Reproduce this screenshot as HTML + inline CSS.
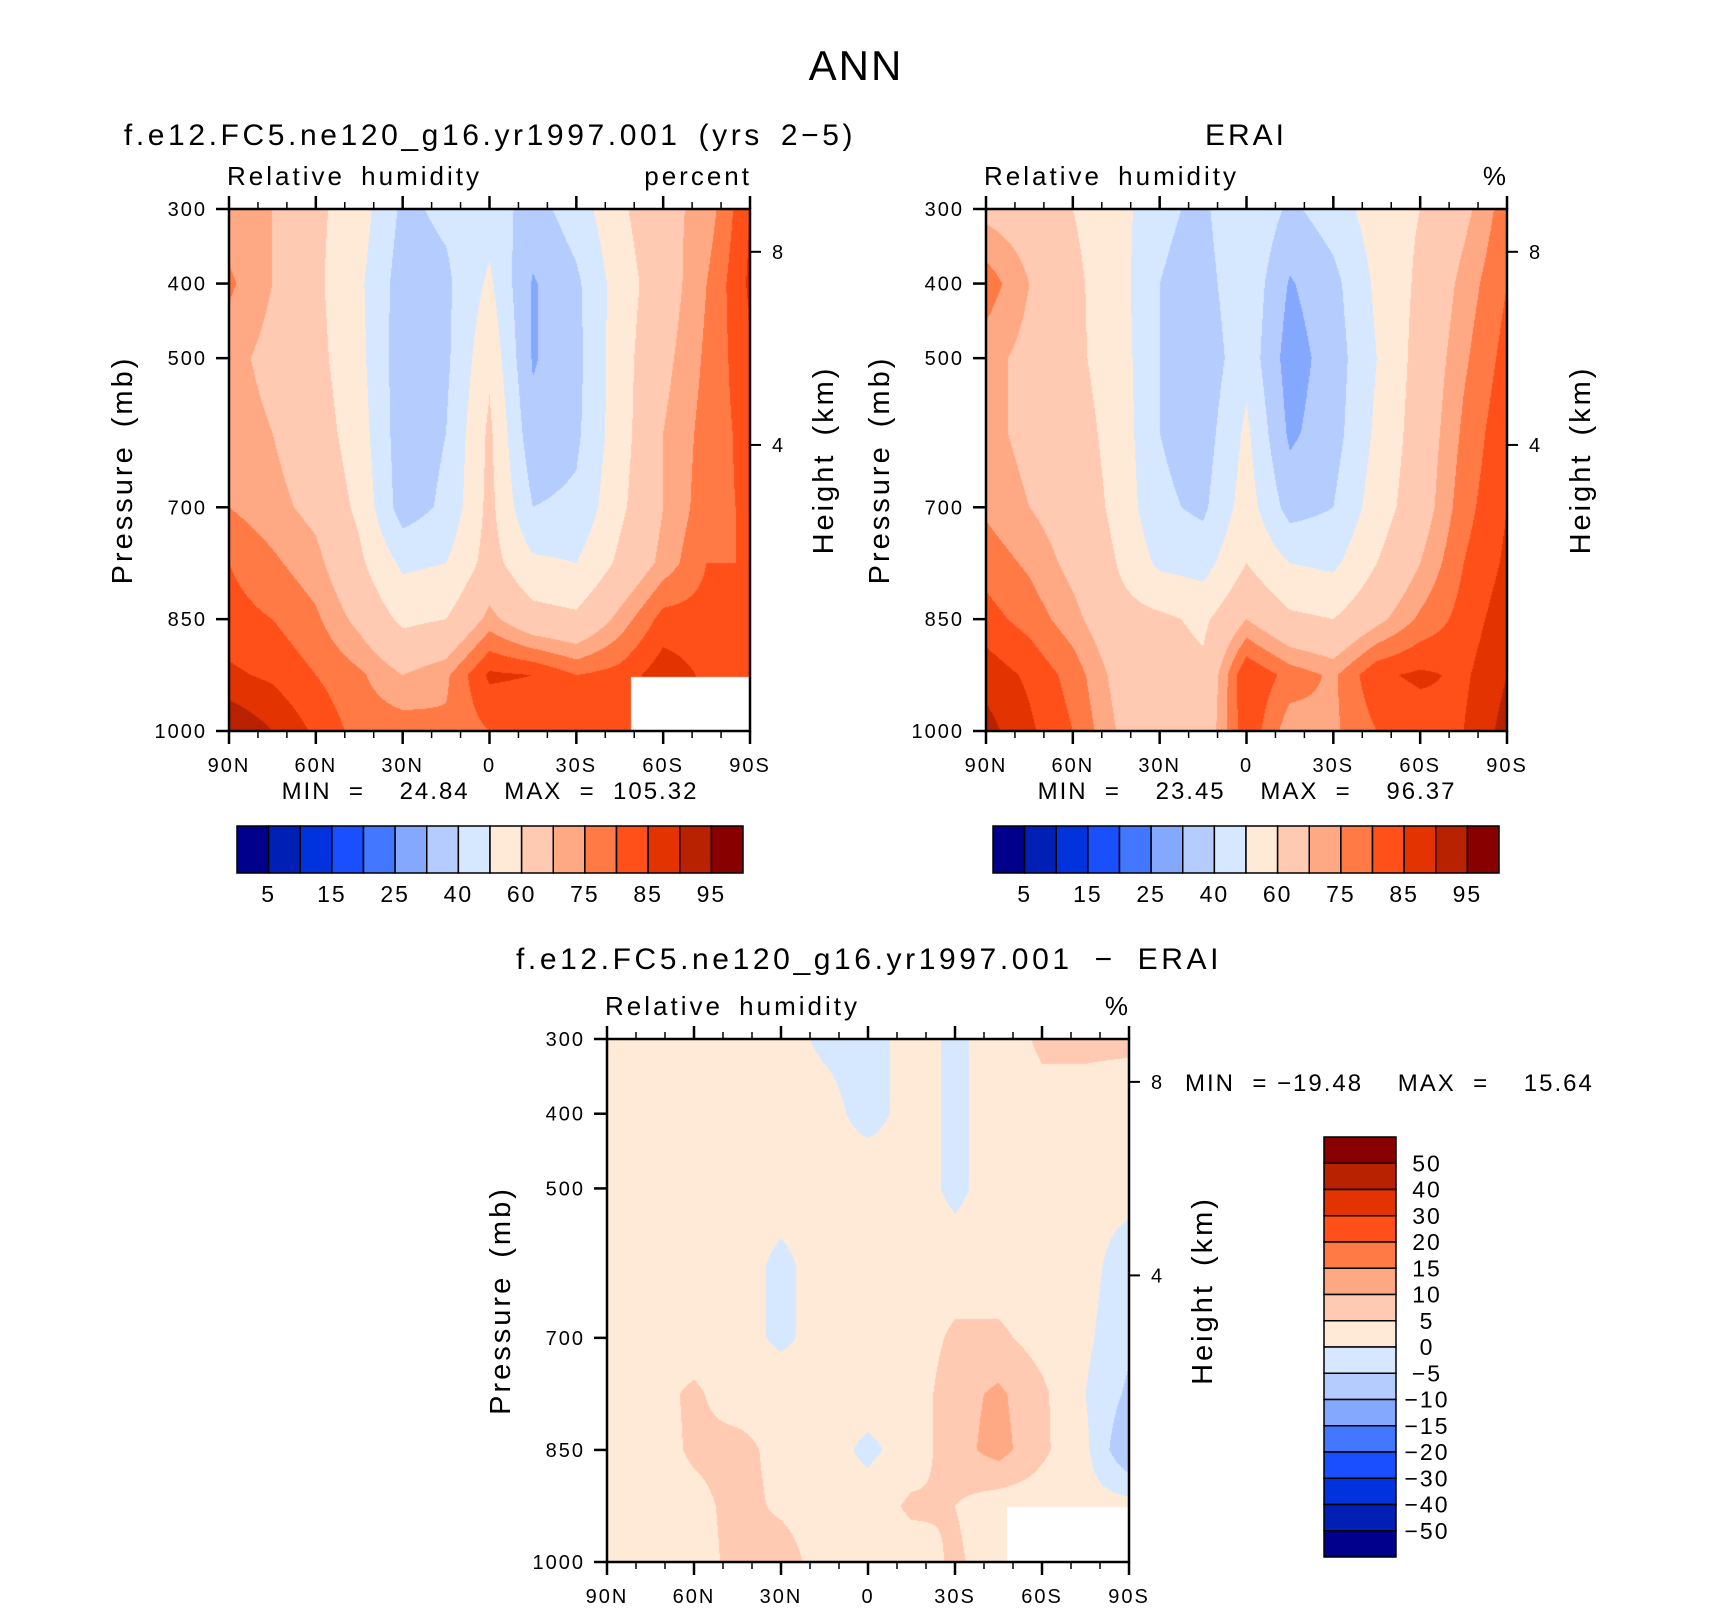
<!DOCTYPE html>
<html><head><meta charset="utf-8">
<style>
html,body{margin:0;padding:0;background:#fff;}
#root{position:relative;width:1710px;height:1610px;overflow:hidden;background:#fff;}
canvas{position:absolute;}
svg{position:absolute;left:0;top:0;}
text{font-family:"Liberation Sans",sans-serif;fill:#000;}
</style></head>
<body>
<div id="root">
<canvas id="cv1"></canvas>
<canvas id="cv2"></canvas>
<canvas id="cv3"></canvas>
<svg id="sv" width="1710" height="1610"></svg>
</div>
<script>
// ---- data ----
const lats = [90,75,60,45,30,15,0,-15,-30,-45,-60,-75,-90];
const levs = [300,400,500,600,700,775,850,925,1000];
const modelRH = [
 [72,70,62,55,38,42,45,36,45,58,68,72,85],
 [76,70,62,52,35,38,52,29,38,55,66,75,86],
 [72,68,63,53,34,38,58,29,37,56,68,76,84],
 [73,70,65,55,34,40,62,33,38,56,70,77,82],
 [75,72,68,58,35,42,63,40,42,58,70,78,81],
 [80,76,72,62,48,50,64,52,50,62,72,80,80],
 [82,80,76,68,58,60,72,64,62,72,82,82,80],
 [86,84,80,76,70,74,86,85,80,82,88,84,80],
 [95,90,84,78,78,76,80,80,80,82,85,85,85]
];
const eraiRH = [
 [68,66,60,55,42,38,50,38,45,55,60,68,78],
 [78,70,62,55,40,36,48,29,37,52,62,72,80],
 [72,68,62,56,40,33,47,25,35,50,64,74,82],
 [72,68,64,57,40,35,52,28,36,52,65,76,84],
 [74,70,66,58,42,38,55,36,40,55,66,78,85],
 [78,74,68,60,48,46,60,50,48,60,70,80,86],
 [82,78,72,64,62,58,70,62,60,68,76,82,88],
 [88,84,78,68,65,62,85,78,74,84,86,84,90],
 [92,86,80,70,64,64,84,72,74,80,82,85,92]
];
const diffRH = [
 [2,2,2,2,2,-1,-2,2,-1,2,6,6,6],
 [2,2,2,2,2,2,-2,2,-1,2,3,3,2],
 [2,2,2,2,2,2,4,2,-1,2,2,2,2],
 [2,2,2,2,-1,2,2,2,2,2,2,2,-3],
 [2,2,2,2,-1,2,2,2,6,6,3,1,-4],
 [2,3,6,2,3,2,2,2,8,11,6,0,-6],
 [2,2,6,7,3,2,-1,2,8,12,6,1,-10],
 [2,2,3,7,4,2,2,6,5,2,2,2,2],
 [3,3,2,7,8,2,2,2,6,2,2,2,2]
];
const rhLevels = [5,10,15,20,25,30,40,50,60,70,75,80,85,90,95];
const rhLabels = ["5","15","25","40","60","75","85","95"];
const diffLevels = [-50,-40,-30,-20,-15,-10,-5,0,5,10,15,20,30,40,50];
const diffLabels = ["50","40","30","20","15","10","5","0","\u22125","\u221210","\u221215","\u221220","\u221230","\u221240","\u221250"];
const colors = ["#00008C","#0020B5","#0033DD","#1A4FFF","#4477FF","#85A8FF","#B5CCFF","#D6E8FF","#FFEAD8","#FFCAB1","#FFA984","#FF7A45","#FF5019","#E23300","#B82200","#880000"];
const pTicks = [300,400,500,700,850,1000];
const latTicks = [90,60,30,0,-30,-60,-90];
const latTickLabels = ["90N","60N","30N","0","30S","60S","90S"];
const hTicks = [8,4];
const hFrac = [0.082,0.452];
const maskModel = {lat:-49, p:927};
const maskDiff = {lat:-48, p:927};

// ---- helpers ----
const NS="http://www.w3.org/2000/svg";
const sv=document.getElementById('sv');
function mk(tag,attrs,parent){const e=document.createElementNS(NS,tag);for(const k in attrs)e.setAttribute(k,attrs[k]);(parent||sv).appendChild(e);return e;}
function txt(s,x,y,size,anchor,extra){const t=mk('text',Object.assign({x:x,y:y,'font-size':size,'text-anchor':anchor||'start'},extra||{}));t.textContent=s;return t;}
function hex(c){return [parseInt(c.substr(1,2),16),parseInt(c.substr(3,2),16),parseInt(c.substr(5,2),16)];}
const rgb=colors.map(hex);
function levelIndex(v,levels){let i=0;while(i<levels.length&&v>=levels[i])i++;return i;}

function drawField(id,box,grid,levels,mask){
  const cv=document.getElementById(id);
  const W=box.x1-box.x0,H=box.y1-box.y0;
  cv.width=W;cv.height=H;cv.style.left=box.x0+'px';cv.style.top=box.y0+'px';
  const ctx=cv.getContext('2d');const img=ctx.createImageData(W,H);
  for(let py=0;py<H;py++){
    const p=300+(py+0.5)/H*700;
    let j=0;while(j<levs.length-2&&p>levs[j+1])j++;
    const fy=Math.min(1,Math.max(0,(p-levs[j])/(levs[j+1]-levs[j])));
    for(let px=0;px<W;px++){
      const lat=90-(px+0.5)/W*180;
      const fx=(90-lat)/15;let i=Math.min(lats.length-2,Math.floor(fx));const tx=fx-i;
      const v=(grid[j][i]*(1-tx)+grid[j][i+1]*tx)*(1-fy)+(grid[j+1][i]*(1-tx)+grid[j+1][i+1]*tx)*fy;
      let c=rgb[levelIndex(v,levels)];
      if(mask&&lat<mask.lat&&p>mask.p)c=[255,255,255];
      const o=(py*W+px)*4;img.data[o]=c[0];img.data[o+1]=c[1];img.data[o+2]=c[2];img.data[o+3]=255;
    }
  }
  ctx.putImageData(img,0,0);
}

const TS={'letter-spacing':'2'};
function axes(box,name,unitText){
  const W=box.x1-box.x0,H=box.y1-box.y0;
  const g=mk('g',{});
  
  
  const xs=lat=>box.x0+(90-lat)/180*W;
  const ys=p=>box.y0+(p-300)/700*H;
  mk('rect',{x:box.x0,y:box.y0,width:W,height:H,fill:'none',stroke:'#000','stroke-width':2.5},g);
  for(let l=90;l>=-90;l-=10){
    const major=(l%30===0);const len=major?13:7;const x=xs(l);
    mk('line',{x1:x,y1:box.y1,x2:x,y2:box.y1+len,stroke:'#000','stroke-width':major?2.5:1.5},g);
    mk('line',{x1:x,y1:box.y0,x2:x,y2:box.y0-len,stroke:'#000','stroke-width':major?2.5:1.5},g);
  }
  latTicks.forEach((l,k)=>{const t=txt(latTickLabels[k],xs(l),box.y1+41,20,'middle',TS);});
  pTicks.forEach(p=>{const y=ys(p);mk('line',{x1:box.x0-13,y1:y,x2:box.x0,y2:y,stroke:'#000','stroke-width':2.5},g);
    const t=txt(String(p),box.x0-22,y+7,20,'end',TS);});
  hTicks.forEach((h,k)=>{const y=box.y0+hFrac[k]*H;mk('line',{x1:box.x1,y1:y,x2:box.x1+11,y2:y,stroke:'#000','stroke-width':2},g);
    const t=txt(String(h),box.x1+22,y+7,20,'start');});
  const cy=box.y0+H/2;
  const pt=txt('Pressure (mb)',0,0,29,'middle',{transform:`translate(${box.x0-97},${cy}) rotate(-90)`,'word-spacing':'6','letter-spacing':'3'});
  
  const ht=txt('Height (km)',0,0,29,'middle',{transform:`translate(${box.x1+83},${cy-10}) rotate(-90)`,'word-spacing':'6','letter-spacing':'3'});
  
  const rh=txt('Relative humidity',box.x0-2,box.y0-24,26,'start',{'word-spacing':'6','letter-spacing':'3'});
  
  const un=txt(unitText,box.x1+2,box.y0-24,26,'end',{'letter-spacing':'3'});
  
}

function hColorbar(x0,x1,y0,y1,levels,labels,name){
  const g=mk('g',{});
  
  
  const n=levels.length+1;const w=(x1-x0)/n;
  for(let k=0;k<n;k++){const r=mk('rect',{x:x0+k*w,y:y0,width:w,height:y1-y0,fill:colors[k],stroke:'#000','stroke-width':1.5},g);
    }
  labels.forEach((s,k)=>{const t=txt(s,x0+(2*k+1)*w,902,23,'middle',TS);});
}
function vColorbar(x0,x1,y0,y1,levels,labels){
  const g=mk('g',{});
  
  
  const n=levels.length+1;const h=(y1-y0)/n;
  for(let k=0;k<n;k++){const r=mk('rect',{x:x0,y:y0+k*h,width:x1-x0,height:h,fill:colors[n-1-k],stroke:'#000','stroke-width':1.5},g);
    }
  labels.forEach((s,k)=>{const t=txt(s,1427,y0+(k+1)*h+8,23,'middle',TS);});
}

const b1={x0:229,x1:750,y0:209,y1:731};
const b2={x0:986,x1:1507,y0:209,y1:731};
const b3={x0:607,x1:1129,y0:1039,y1:1562};
drawField('cv1',b1,modelRH,rhLevels,maskModel);
drawField('cv2',b2,eraiRH,rhLevels,null);
drawField('cv3',b3,diffRH,diffLevels,maskDiff);
axes(b1,'model','percent');
axes(b2,'erai','%');
axes(b3,'difference','%');

const PRE={'style':'white-space:pre','letter-spacing':'2'};
let t;
t=txt('ANN',856,80,42,'middle',{'letter-spacing':'2'});
t=txt('f.e12.FC5.ne120_g16.yr1997.001 (yrs 2\u22125)',490,145,30,'middle',{'word-spacing':'6','letter-spacing':'3.6'});
t=txt('ERAI',1246,145,30,'middle',{'letter-spacing':'3'});
t=txt('f.e12.FC5.ne120_g16.yr1997.001 \u2212 ERAI',869,969,30,'middle',{'word-spacing':'10','letter-spacing':'3.6'});
t=txt('MIN  =    24.84    MAX  =  105.32',490,799,24,'middle',PRE);
t=txt('MIN  =    23.45    MAX  =    96.37',1247,799,24,'middle',PRE);
t=txt('MIN  = \u221219.48    MAX  =    15.64',1185,1091,24,'start',PRE);
hColorbar(237,743,826,873,rhLevels,rhLabels,'model-colorbar');
hColorbar(993,1499,826,873,rhLevels,rhLabels,'erai-colorbar');
vColorbar(1324,1396,1137,1557,diffLevels,diffLabels);
</script>
</body></html>
